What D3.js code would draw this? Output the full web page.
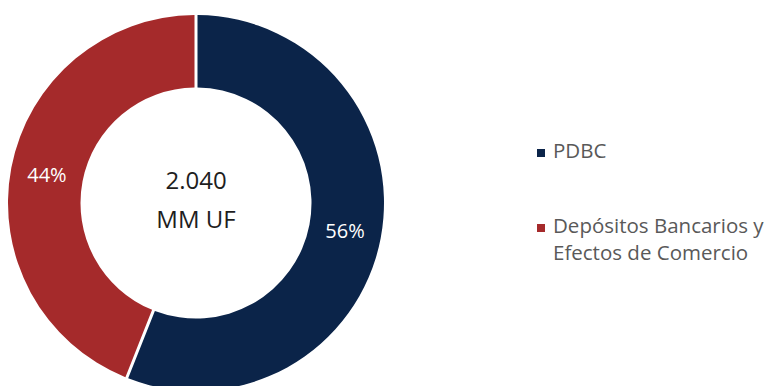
<!DOCTYPE html>
<html>
<head>
<meta charset="utf-8">
<script src="https://cdn.jsdelivr.net/npm/d3@7/dist/d3.min.js"></script>
<style>
  html, body { margin: 0; padding: 0; background: #ffffff; }
  svg { display: block; font-family: "Open Sans", "Noto Sans", sans-serif; }
</style>
</head>
<body>
<svg id="chart" width="768" height="386"></svg>
<script>
// Portfolio composition
const categories = ["PDBC", "Depósitos Bancarios y Efectos de Comercio"];
const legendLines = [["PDBC"], ["Depósitos Bancarios y", "Efectos de Comercio"]];
const shares = [56, 44];
const colors = ["#0B2449", "#A52A2B"];
const centerLines = ["2.040", "MM UF"];

const svg = d3.select("#chart");
const cx = 196, cy = 203;
const outerR = 188, innerR = 115.5;

const pie = d3.pie().sort(null).value(d => d);
const arcs = pie(shares);

const arc = d3.arc()
  .innerRadius(innerR)
  .outerRadius(outerR)
  .padRadius(outerR)
  .padAngle(3 / outerR);

const labelArc = d3.arc()
  .innerRadius((innerR + outerR) / 2)
  .outerRadius((innerR + outerR) / 2);

const g = svg.append("g").attr("transform", `translate(${cx},${cy})`);

g.selectAll("path.slice")
  .data(arcs)
  .join("path")
  .attr("class", "slice")
  .attr("d", arc)
  .attr("fill", (d, i) => colors[i]);

// Percentage labels at slice centroids
g.selectAll("text.pct")
  .data(arcs)
  .join("text")
  .attr("class", "pct")
  .attr("transform", d => `translate(${labelArc.centroid(d)})`)
  .attr("text-anchor", "middle")
  .attr("dy", "0.35em")
  .attr("fill", "#ffffff")
  .attr("font-size", 20)
  .text(d => `${d.data}%`);

// Total in the hole
g.append("text")
  .attr("text-anchor", "middle")
  .attr("fill", "#1e1e1e")
  .attr("font-size", 24)
  .selectAll("tspan")
  .data(centerLines)
  .join("tspan")
  .attr("x", 0)
  .attr("y", (d, i) => i === 0 ? -14 : 25)
  .text(d => d);

// Legend
const legendX = 537;
const legendRows = [158, 233];
const lg = svg.append("g");
legendLines.forEach((lines, i) => {
  const base = legendRows[i];
  lg.append("rect")
    .attr("x", legendX)
    .attr("y", base - 9)
    .attr("width", 8)
    .attr("height", 8)
    .attr("fill", colors[i]);
  const t = lg.append("text")
    .attr("fill", "#595959")
    .attr("font-size", 20.5);
  lines.forEach((line, j) => {
    t.append("tspan")
      .attr("x", legendX + 16)
      .attr("y", base + j * 27)
      .text(line);
  });
});
</script>
</body>
</html>
